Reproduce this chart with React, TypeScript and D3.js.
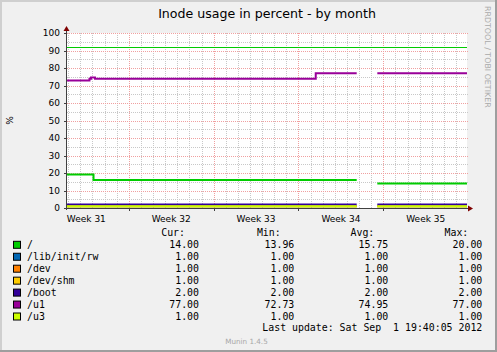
import * as d3 from 'd3';

const W = 497;
const H = 352;

const TITLE = 'Inode usage in percent - by month';
const Y_LABEL = '%';
const WATERMARK = 'RRDTOOL / TOBI OETIKER';
const FOOTER = 'Munin 1.4.5';
const LAST_UPDATE = 'Last update: Sat Sep  1 19:40:05 2012';

// time window of the graph (33 days)
const DOMAIN = ['2012-07-30 21:40', '2012-09-01 21:40'];

// week boundaries (sundays) and their labels
const WEEK_STARTS = ['2012-07-29 00:00', '2012-08-05 00:00', '2012-08-12 00:00', '2012-08-19 00:00', '2012-08-26 00:00'];
const WEEK_LABELS = ['Week 31', 'Week 32', 'Week 33', 'Week 34', 'Week 35'];

const Y_MAJOR = [0, 10, 20, 30, 40, 50, 60, 70, 80, 90, 100];
const Y_MINOR = [5, 15, 25, 35, 45, 55, 65, 75, 85, 95];

const WARNING = 92;

// sample times, index 7 is the hole in the data
const TIMES = [
    '2012-07-30 21:40',
    '2012-08-01 18:10',
    '2012-08-01 21:10',
    '2012-08-02 02:10',
    '2012-08-02 05:10',
    '2012-08-20 10:10',
    '2012-08-23 19:15',
    '2012-08-23 19:15',
    '2012-08-25 12:05',
    '2012-09-01 21:40',
];

const ROOT = [19.2, 19.2, 19.2, 16.0, 16.0, 16.0, 16.0, null, 14.0, 14.0];
const LIB_INIT_RW = [1, 1, 1, 1, 1, 1, 1, null, 1, 1];
const DEV = [1, 1, 1, 1, 1, 1, 1, null, 1, 1];
const DEV_SHM = [1, 1, 1, 1, 1, 1, 1, null, 1, 1];
const BOOT = [2, 2, 2, 2, 2, 2, 2, null, 2, 2];
const U1 = [72.9, 73.8, 74.6, 74.6, 73.8, 77.0, 77.0, null, 77.0, 77.0];
const U3 = [1, 1, 1, 1, 1, 1, 1, null, 1, 1];

const NAMES = ['/', '/lib/init/rw', '/dev', '/dev/shm', '/boot', '/u1', '/u3'];
const COLORS = ['#00CC00', '#0066B3', '#FF8000', '#FFCC00', '#330099', '#990099', '#CCFF00'];
const VALUES = [ROOT, LIB_INIT_RW, DEV, DEV_SHM, BOOT, U1, U3];

const CUR = [14.0, 1.0, 1.0, 1.0, 2.0, 77.0, 1.0];
const MIN = [13.96, 1.0, 1.0, 1.0, 2.0, 72.73, 1.0];
const AVG = [15.75, 1.0, 1.0, 1.0, 2.0, 74.95, 1.0];
const MAX = [20.0, 1.0, 1.0, 1.0, 2.0, 77.0, 1.0];

const parse = d3.timeParse('%Y-%m-%d %H:%M');

export default function App() {
    const left = 67;
    const right = 467;
    const top = 33;
    const bottom = 208;

    const x = d3.scaleTime()
        .domain(DOMAIN.map((d) => parse(d) as Date))
        .range([left, right]);
    const y = d3.scaleLinear().domain([0, 100]).range([bottom, top]);

    const times = TIMES.map((d) => parse(d) as Date);

    // daily minor grid, weekly major grid
    const days = d3.timeDay.range(x.domain()[0], x.domain()[1]).filter((d) => d.getDay() !== 0);
    const weeks = WEEK_STARTS.map((d) => parse(d) as Date);
    const weekLines = weeks.filter((d) => d > x.domain()[0]);

    const line = d3.line<number | null>()
        .defined((d) => d != null)
        .x((d, i) => x(times[i]))
        .y((d) => y(d as number))
        .curve(d3.curveStepAfter);

    const mono = 'DejaVu Sans Mono';
    const sans = 'DejaVu Sans';
    const legendFont = 9.9;
    const rowY = (i: number) => 248.3 + i * 11.95;
    const cols = [199, 294.3, 388.3, 482.3];
    const heads = ['Cur:', 'Min:', 'Avg:', 'Max:'];
    const headX = [185, 280.7, 374.3, 468.3];
    const stats = [CUR, MIN, AVG, MAX];

    return (
        <svg width={W} height={H} style={{ position: 'absolute', left: 0, top: 0 }}>
            {/* background with 3d frame */}
            <rect x={0} y={0} width={W} height={H} fill="#F0F0F0" />
            <path d={`M0,0 H${W} V2 H2 V${H} H0 Z`} fill="#CFCFCF" />
            <path d={`M${W},${H} H0 V${H - 2} H${W - 2} V0 H${W} Z`} fill="#9E9E9E" />

            <text x={(left + right) / 2} y={18} textAnchor="middle" fontFamily={sans} fontSize={12.6} fill="#000">
                {TITLE}
            </text>
            <text
                transform={`translate(485,6) rotate(90)`}
                fontFamily={sans}
                fontSize={7.9}
                fill="#AAAAAA"
            >
                {WATERMARK}
            </text>

            {/* canvas */}
            <rect x={left} y={top} width={right - left} height={bottom - top} fill="#FFFFFF" />

            {/* minor grid */}
            <g stroke="#C8C8C8" strokeWidth={1} strokeDasharray="1,1">
                {Y_MINOR.map((v) => (
                    <line key={'hy' + v} x1={left} x2={right + 1} y1={Math.round(y(v)) + 0.5} y2={Math.round(y(v)) + 0.5} />
                ))}
                {days.map((d) => (
                    <line key={'vx' + d.getTime()} x1={Math.round(x(d)) + 0.5} x2={Math.round(x(d)) + 0.5} y1={top} y2={bottom} />
                ))}
            </g>
            {/* major grid */}
            <g stroke="#F0A0A0" strokeWidth={1} strokeDasharray="1,1">
                {Y_MAJOR.filter((v) => v > 0).map((v) => (
                    <line key={'my' + v} x1={left} x2={right + 1} y1={Math.round(y(v)) + 0.5} y2={Math.round(y(v)) + 0.5} />
                ))}
                {weekLines.map((d) => (
                    <line key={'mx' + d.getTime()} x1={Math.round(x(d)) + 0.5} x2={Math.round(x(d)) + 0.5} y1={top} y2={bottom} />
                ))}
            </g>

            {/* warning rule */}
            <line x1={left} x2={right} y1={Math.round(y(WARNING)) + 0.5} y2={Math.round(y(WARNING)) + 0.5} stroke="#00CC00" strokeWidth={1} />

            {/* series */}
            {VALUES.map((vals, i) => (
                <path key={NAMES[i]} d={line(vals) || ''} fill="none" stroke={COLORS[i]} strokeWidth={2} />
            ))}

            {/* axes */}
            <g stroke="#404040" strokeWidth={1}>
                <line x1={left - 0.5} x2={left - 0.5} y1={bottom + 2} y2={top - 4} />
                <line x1={left - 2} x2={right + 2} y1={bottom + 0.5} y2={bottom + 0.5} />
                {Y_MAJOR.map((v) => (
                    <line key={'ty' + v} x1={left - 3} x2={left} y1={Math.round(y(v)) + 0.5} y2={Math.round(y(v)) + 0.5} />
                ))}
                {weekLines.map((d) => (
                    <line key={'tx' + d.getTime()} x1={Math.round(x(d)) + 0.5} x2={Math.round(x(d)) + 0.5} y1={bottom} y2={bottom + 3} />
                ))}
            </g>
            <path d={`M${left - 3.5},${top - 2} L${left - 0.5},${top - 7} L${left + 2.5},${top - 2} Z`} fill="#7F0000" />
            <path d={`M${right + 1},${bottom - 2.5} L${right + 6},${bottom + 0.5} L${right + 1},${bottom + 3.5} Z`} fill="#7F0000" />

            {/* y tick labels */}
            {Y_MAJOR.map((v) => (
                <text key={'ly' + v} x={60} y={y(v)} dy="0.35em" textAnchor="end" fontFamily={sans} fontSize={9} fill="#000">
                    {v}
                </text>
            ))}
            <text transform={`translate(13,${(top + bottom) / 2}) rotate(-90)`} textAnchor="middle" fontFamily={sans} fontSize={9} fill="#000">
                {Y_LABEL}
            </text>

            {/* week labels */}
            {weeks.map((d, i) => (
                <text key={'lx' + i} x={x(d3.timeHour.offset(d, 84))} y={221.7} textAnchor="middle" fontFamily={sans} fontSize={9} fill="#000">
                    {WEEK_LABELS[i]}
                </text>
            ))}

            {/* legend */}
            {heads.map((h, j) => (
                <text key={h} x={headX[j]} y={236} textAnchor="end" fontFamily={mono} fontSize={legendFont} fill="#000">
                    {h}
                </text>
            ))}
            {NAMES.map((n, i) => (
                <g key={'lg' + n}>
                    <rect x={13.5} y={rowY(i) - 7} width={7} height={7} fill={COLORS[i]} stroke="#000" strokeWidth={1} />
                    <text x={27} y={rowY(i)} fontFamily={mono} fontSize={legendFont} fill="#000" style={{ whiteSpace: 'pre' }}>
                        {n}
                    </text>
                    {stats.map((s, j) => (
                        <text key={j} x={cols[j]} y={rowY(i)} textAnchor="end" fontFamily={mono} fontSize={legendFont} fill="#000">
                            {s[i].toFixed(2)}
                        </text>
                    ))}
                </g>
            ))}
            <text x={482.3} y={331} textAnchor="end" fontFamily={mono} fontSize={legendFont} fill="#000" style={{ whiteSpace: 'pre' }}>
                {LAST_UPDATE}
            </text>
            <text x={W / 2 - 2} y={344} textAnchor="middle" fontFamily={sans} fontSize={7.2} fill="#A8A8A8">
                {FOOTER}
            </text>
        </svg>
    );
}
